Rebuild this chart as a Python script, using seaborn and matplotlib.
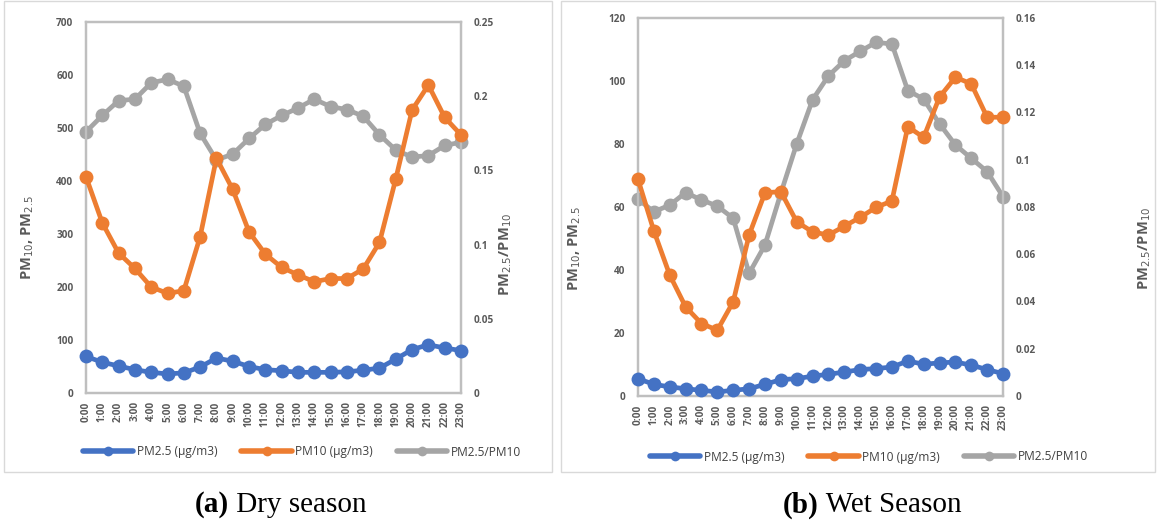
import matplotlib
matplotlib.use("Agg")
import matplotlib.pyplot as plt
from matplotlib.lines import Line2D
from matplotlib.patches import Rectangle
import seaborn as sns
import numpy as np

sns.set_theme(style="white")
plt.rcParams["font.family"] = ["Open Sans", "DejaVu Sans"]

hours = [f"{h}:00" for h in range(24)]

# Dry season
dry_pm25 = [69, 58, 51, 44, 39, 36, 38, 49, 66, 60, 50, 44,
            42, 39, 39, 39, 40, 43, 47, 64, 82, 91, 85, 80]
dry_pm10 = [408, 321, 264, 235, 200, 188, 193, 295, 443, 384, 304, 262,
            237, 223, 210, 216, 216, 234, 284, 404, 534, 581, 520, 487]
dry_ratio = [0.176, 0.187, 0.197, 0.198, 0.209, 0.2114, 0.2067, 0.175,
             0.157, 0.161, 0.1715, 0.181, 0.187, 0.192, 0.198, 0.193,
             0.191, 0.1865, 0.174, 0.1637, 0.159, 0.160, 0.1668, 0.169]

# Wet season
wet_pm25 = [5.5, 3.7, 2.9, 2.3, 1.8, 1.3, 1.8, 2.3, 3.7, 5.2, 5.5, 6.3,
            6.9, 7.6, 8.4, 8.7, 9.2, 11.1, 10.1, 10.5, 10.8, 9.8, 8.4, 7.1]
wet_pm10 = [68.8, 52.4, 38.4, 28.3, 23.0, 20.9, 29.9, 51.1, 64.5, 64.9, 55.3, 52.1,
            51.1, 53.9, 56.7, 59.9, 61.9, 85.5, 82.1, 94.9, 101.2, 99.1, 88.5, 88.5]
wet_ratio = [0.0833, 0.078, 0.0808, 0.0861, 0.083, 0.0804, 0.0752, 0.0519,
             0.0639, 0.0858, 0.1067, 0.1254, 0.1355, 0.1419, 0.1459, 0.1497,
             0.149, 0.1293, 0.1257, 0.1152, 0.1063, 0.1006, 0.095, 0.0844]

series_names = ["PM2.5 (µg/m3)", "PM10 (µg/m3)", "PM2.5/PM10"]
colors = ["#4472C4", "#ED7D31", "#A5A5A5"]
tick_color = "#595959"
spine_color = "#BFBFBF"

W, H = 1157, 520
fig = plt.figure(figsize=(W / 100, H / 100), dpi=100)


def fx(px):
    return px / W


def fy(py):
    return 1 - py / H


# panel frames
for x0, x1 in [(4, 552), (561, 1155)]:
    fig.patches.append(Rectangle((fx(x0), fy(472)), fx(x1 - x0), 1 - fy(472) - 0.002,
                                 transform=fig.transFigure, fill=False,
                                 edgecolor="#D9D9D9", linewidth=1.0))


def panel(rect, pm25, pm10, ratio, ymax, ystep, rmax, rticks, rfmt,
          ylab_pos, rlab_pos, legend_pos):
    ax = fig.add_axes(rect)
    x = np.arange(len(hours))
    lw, ms = 3.4, 10
    sns.lineplot(x=x, y=pm25, ax=ax, color=colors[0], marker="o", linewidth=lw,
                 markersize=ms, markeredgewidth=0, clip_on=False, zorder=3)
    sns.lineplot(x=x, y=pm10, ax=ax, color=colors[1], marker="o", linewidth=lw,
                 markersize=ms, markeredgewidth=0, clip_on=False, zorder=3)
    ax.set_xlim(0, len(hours) - 1)
    ax.set_ylim(0, ymax)
    yt = np.arange(0, ymax + ystep / 2, ystep)
    ax.set_yticks(yt)
    ax.set_yticklabels([f"{int(v)}" for v in yt])
    ax.set_xticks(x)
    ax.set_xticklabels(hours, rotation=90)
    ax.tick_params(axis="both", length=0, colors=tick_color, labelsize=7.2)
    ax.tick_params(axis="x", pad=6)
    ax.tick_params(axis="y", pad=9)

    ax2 = ax.twinx()
    sns.lineplot(x=x, y=ratio, ax=ax2, color=colors[2], marker="o", linewidth=lw,
                 markersize=ms, markeredgewidth=0, clip_on=False, zorder=2)
    ax2.set_ylim(0, rmax)
    ax2.set_yticks(rticks)
    ax2.set_yticklabels([rfmt(v) for v in rticks])
    ax2.tick_params(axis="y", length=0, colors=tick_color, labelsize=7.2, pad=9)
    ax.set_zorder(ax2.get_zorder() + 1)
    ax.patch.set_visible(False)

    for lbl in ax.get_xticklabels() + ax.get_yticklabels() + ax2.get_yticklabels():
        lbl.set_fontweight("bold")

    for a in (ax, ax2):
        for s in a.spines.values():
            s.set_color(spine_color)
            s.set_linewidth(1.6)
        a.set_xlabel("")
        a.set_ylabel("")
        a.grid(False)

    fig.text(fx(ylab_pos[0]), fy(ylab_pos[1]), r"PM$_{10}$, PM$_{2.5}$",
             rotation=90, ha="center", va="center", color=tick_color,
             fontsize=10.5, fontweight="bold")
    fig.text(fx(rlab_pos[0]), fy(rlab_pos[1]), r"PM$_{2.5}$/PM$_{10}$",
             rotation=90, ha="center", va="center", color=tick_color,
             fontsize=10.5, fontweight="bold")

    handles = [Line2D([], [], color=c, marker="o", linewidth=4, markersize=7,
                      markeredgewidth=0) for c in colors]
    fig.legend(handles, series_names, loc="center",
               bbox_to_anchor=(fx(legend_pos[0]), fy(legend_pos[1])),
               ncol=3, frameon=False, fontsize=8.6, handlelength=4.2,
               handletextpad=0.3, columnspacing=2.0, labelcolor="#404040")
    return ax


def fmt_dec(v):
    return "0" if v == 0 else f"{v:g}"


panel([fx(86), fy(393), fx(461 - 86), (393 - 22) / H],
      dry_pm25, dry_pm10, dry_ratio, 700, 100, 0.25,
      [0, 0.05, 0.1, 0.15, 0.2, 0.25], fmt_dec,
      (28, 237), (506, 254), (302, 452))

panel([fx(638), fy(396), fx(1003 - 638), (396 - 18) / H],
      wet_pm25, wet_pm10, wet_ratio, 120, 20, 0.16,
      [0, 0.02, 0.04, 0.06, 0.08, 0.1, 0.12, 0.14, 0.16], fmt_dec,
      (575, 248), (1145, 248), (869, 457))

# captions
serif = ["Liberation Serif", "DejaVu Serif"]
for xs, tag, title in [(229, "(a)", " Dry season"), (819, "(b)", " Wet Season")]:
    fig.text(fx(xs), fy(505), tag, ha="right", va="center", fontsize=21,
             fontweight="bold", family=serif, color="black")
    fig.text(fx(xs), fy(505), title, ha="left", va="center", fontsize=21,
             family=serif, color="black")

fig.savefig("out.png", dpi=100)
